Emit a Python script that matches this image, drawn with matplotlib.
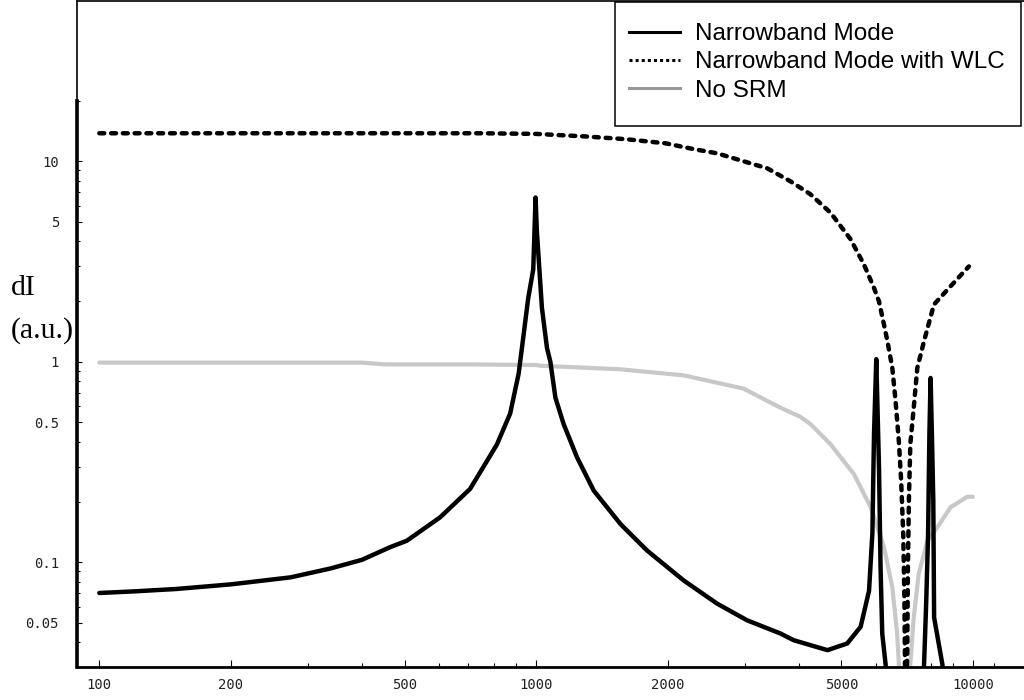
import matplotlib
matplotlib.use('Agg')
import matplotlib.pyplot as plt
from matplotlib.lines import Line2D
from matplotlib.patches import Rectangle

# curve readings (frequency, dI)
nb_x = [100, 120, 150, 200, 274, 338, 399, 464, 506, 603, 706, 813, 872, 912,
        934, 959, 985, 997, 1004, 1031, 1059, 1078, 1107, 1156, 1241, 1355,
        1560, 1795, 2178, 2597, 3040, 3623, 3888, 4645, 5155, 5533, 5783,
        5886, 5937, 6008, 6095, 6145, 6200, 6310, 6400, 7650, 7730, 7820,
        7895, 7950, 8000, 8055, 8115, 8150, 8511, 8700]
nb_y = [0.0702, 0.0715, 0.0735, 0.0775, 0.084, 0.093, 0.1027, 0.119, 0.128,
        0.1675, 0.232, 0.386, 0.551, 0.872, 1.31, 2.07, 2.89, 6.6, 4.47, 1.86,
        1.17, 1.0, 0.662, 0.489, 0.333, 0.2275, 0.155, 0.1143, 0.081, 0.0621,
        0.0513, 0.0441, 0.0408, 0.0364, 0.0393, 0.0476, 0.072, 0.139, 0.437,
        1.03, 0.297, 0.0945, 0.044, 0.031, 0.02, 0.02, 0.031, 0.0645, 0.139,
        0.437, 0.83, 0.437, 0.203, 0.053, 0.031, 0.02]

wlc_x = [100, 300, 500, 750, 1000, 1300, 1600, 1977, 2296, 2596, 2987, 3380,
         3820, 4245, 4718, 5245, 5625, 5930, 6095, 6250, 6370, 6538, 6650,
         6768, 6850, 6925, 6970, 6990, 7030, 7075, 7098, 7135, 7190, 7320,
         7458, 7730, 8143, 8890, 9790]
wlc_y = [13.8, 13.8, 13.8, 13.8, 13.7, 13.3, 12.9, 12.3, 11.5, 10.96, 10.0,
         9.23, 7.95, 6.85, 5.55, 4.09, 3.07, 2.35, 2.0, 1.55, 1.27, 0.933,
         0.64, 0.40, 0.255, 0.139, 0.0645, 0.0313, 0.02, 0.036, 0.0945, 0.203,
         0.39, 0.59, 0.93, 1.27, 1.93, 2.38, 2.99]

nosrm_x = [100, 200, 400, 450, 700, 1000, 1025, 1560, 2178, 2987, 3623,
           4028, 4250, 4720, 5340, 5835, 6257, 6538, 6707, 6768, 6950, 7190,
           7320, 7515, 7869, 8285, 8890, 9706, 10000]
nosrm_y = [0.99, 0.99, 0.99, 0.97, 0.97, 0.963, 0.955, 0.917, 0.855, 0.734,
           0.59, 0.531, 0.488, 0.388, 0.275, 0.188, 0.119, 0.0751, 0.044,
           0.031, 0.02, 0.031, 0.053, 0.0875, 0.128, 0.149, 0.188, 0.212,
           0.212]

labels = ['Narrowband Mode', 'Narrowband Mode with WLC', 'No SRM']

x_major = [100, 200, 500, 1000, 2000, 5000, 10000]
x_minor = [300, 400, 600, 700, 800, 900, 3000, 4000, 6000, 7000, 8000, 9000, 11200]
y_major = [0.05, 0.1, 0.5, 1, 5, 10]
y_major_labels = ['0.05', '0.1', '0.5', '1', '5', '10']
y_minor = [0.04, 0.06, 0.07, 0.08, 0.09, 0.2, 0.3, 0.4, 0.6, 0.7, 0.8, 0.9,
           2, 3, 4, 6, 7, 8, 9, 20]

W, H = 1024, 700
fig = plt.figure(figsize=(W / 100, H / 100), dpi=100)
ax = fig.add_axes([77 / W, 33.3 / H, (W - 77) / W, (666.7 - 1.5) / H])
ax.set_xscale('log')
ax.set_yscale('log')
ax.set_xlim(88.9, 13090)
ax.set_ylim(0.0301, 62.7)

ax.plot(nosrm_x, nosrm_y, color='#c8c8c8', lw=3.0, solid_capstyle='round', zorder=2)
ax.plot(nb_x, nb_y, color='black', lw=3.2, solid_joinstyle='round',
        solid_capstyle='round', zorder=3)
ax.plot(wlc_x, wlc_y, color='black', lw=3.2, dashes=(1.1, 1.55),
        dash_capstyle='round', zorder=3)

# spines: thin frame top/left, heavy axes
ax.spines['right'].set_visible(False)
ax.spines['top'].set_linewidth(1.2)
ax.spines['left'].set_linewidth(1.2)
ax.spines['bottom'].set_linewidth(2.0)
ax.plot([0, 0], [0.0301, 20], transform=ax.get_yaxis_transform(),
        color='black', lw=2.6, clip_on=False, zorder=5)

ax.set_xticks(x_major)
ax.set_xticklabels([str(v) for v in x_major])
ax.set_xticks(x_minor, minor=True)
ax.set_xticklabels([], minor=True)
ax.set_yticks(y_major)
ax.set_yticklabels(y_major_labels)
ax.set_yticks(y_minor, minor=True)
ax.set_yticklabels([], minor=True)

ax.tick_params(axis='x', which='major', direction='in', length=5, width=0.8,
               pad=8, labelsize=10, labelcolor='#222222', top=False)
ax.tick_params(axis='x', which='minor', direction='in', length=3, width=0.8, top=False)
ax.tick_params(axis='y', which='major', direction='in', length=3.5, width=0.8,
               pad=13, labelsize=10, labelcolor='#222222', right=False)
ax.tick_params(axis='y', which='minor', direction='in', length=2.2, width=0.8, right=False)
for lab in ax.get_xticklabels() + ax.get_yticklabels():
    lab.set_family('DejaVu Sans Mono')

fig.text(11 / W, 1 - 295 / H, 'dI', family='Liberation Serif', fontsize=21.5,
         ha='left', va='baseline')
fig.text(11 / W, 1 - 338 / H, '(a.u.)', family='Liberation Serif', fontsize=21.5,
         ha='left', va='baseline')

handles = [Line2D([], [], color='black', lw=2.2),
           Line2D([], [], color='black', lw=2.2, dashes=(1, 1)),
           Line2D([], [], color='#999999', lw=2.2)]
leg = ax.legend(handles, labels, loc='upper left',
                bbox_to_anchor=(607 / W, 1 - 1.5 / H), bbox_transform=fig.transFigure,
                frameon=False, prop={'family': 'Liberation Sans', 'size': 17.5},
                handlelength=2.1, handletextpad=0.62, labelspacing=0.25,
                borderpad=0.9, borderaxespad=0)
fig.add_artist(Rectangle((615 / W, 1 - 125.7 / H), (1020.7 - 615) / W,
                         (125.7 - 1.5) / H, transform=fig.transFigure,
                         fill=False, ec='black', lw=1.1))

fig.savefig('out.png', dpi=100)
